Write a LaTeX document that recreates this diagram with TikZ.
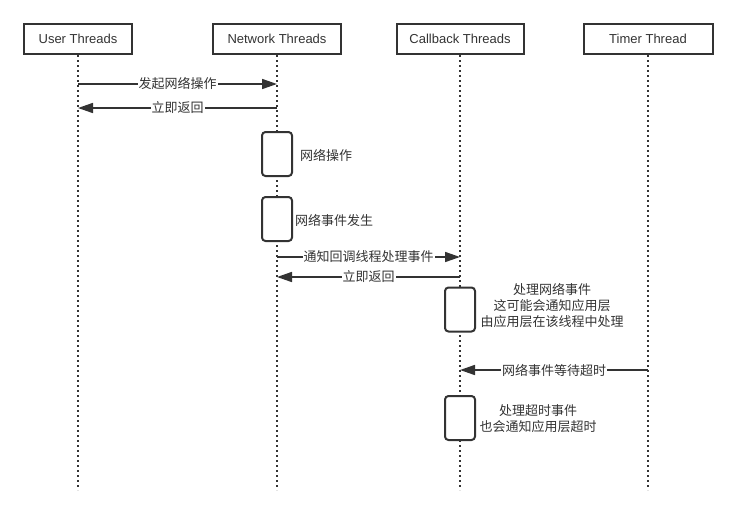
\documentclass[tikz,border=0pt]{standalone}
\usepackage{fontspec}
\usepackage{tikz}
\setmainfont{Liberation Sans}
\newfontfamily\cjk{Noto Sans CJK SC}
\usetikzlibrary{arrows.meta}
\definecolor{ink}{HTML}{333333}

\begin{document}
\begin{tikzpicture}[x=1pt, y=-1pt,
    every node/.style={text=ink, font=\fontsize{13}{16}\selectfont},
    thread/.style={draw=ink, line width=2pt, minimum height=30pt, inner sep=0pt},
    lifeline/.style={draw=ink, line width=2pt, dash pattern=on 2pt off 3pt},
    active/.style={draw=ink, fill=white, line width=2pt, rounded corners=3.5pt,
        minimum width=30pt, minimum height=44pt, inner sep=0pt},
    msg/.style={draw=ink, line width=1.6pt, -{Triangle[length=15pt, width=10pt]}},
    msglabel/.style={fill=white, inner sep=1pt, font=\cjk\fontsize{13}{16}\selectfont},
    note/.style={align=center, inner sep=0pt, font=\cjk\fontsize{13}{16}\selectfont}]
    \useasboundingbox (0,0) rectangle (737,515);

    % threads
    \node[thread, minimum width=108pt] (user) at (78,39) {User Threads};
    \node[thread, minimum width=128pt] (network) at (277,39) {Network Threads};
    \node[thread, minimum width=127pt] (callback) at (460,39) {Callback Threads};
    \node[thread, minimum width=129pt] (timer) at (648,39) {Timer Thread};

    % lifelines
    \coordinate (bottom) at (0,490);
    \foreach \t in {user, network, callback, timer}
        \draw[lifeline] (\t.south) -- (\t |- bottom);

    % message rows
    \coordinate (m1) at (0,84);
    \coordinate (m2) at (0,108);
    \coordinate (m3) at (0,257);
    \coordinate (m4) at (0,277);
    \coordinate (m5) at (0,370);

    % activations
    \node[active] (netop) at (277,154) {};
    \node[active] (netevent) at (277,219) {};
    \node[active] (cbhandle) at (460,309.5) {};
    \node[active] (cbtimeout) at (460,418) {};

    \node[note, anchor=west] at (300,155) {网络操作};
    \node[note, anchor=west] at (295,220) {网络事件发生};
    \node[note] at (552,306) {处理网络事件\\这可能会通知应用层\\由应用层在该线程中处理};
    \node[note] at (538,419) {处理超时事件\\也会通知应用层超时};

    % messages
    \draw[msg] (user |- m1) -- (network |- m1) node[midway, msglabel] {发起网络操作};
    \draw[msg] (network |- m2) -- (user |- m2) node[midway, msglabel] {立即返回};
    \draw[msg] (network |- m3) -- (callback |- m3) node[midway, msglabel] {通知回调线程处理事件};
    \draw[msg] (callback |- m4) -- (network |- m4) node[midway, msglabel] {立即返回};
    \draw[msg] (timer |- m5) -- (callback |- m5) node[midway, msglabel] {网络事件等待超时};
\end{tikzpicture}
\end{document}
